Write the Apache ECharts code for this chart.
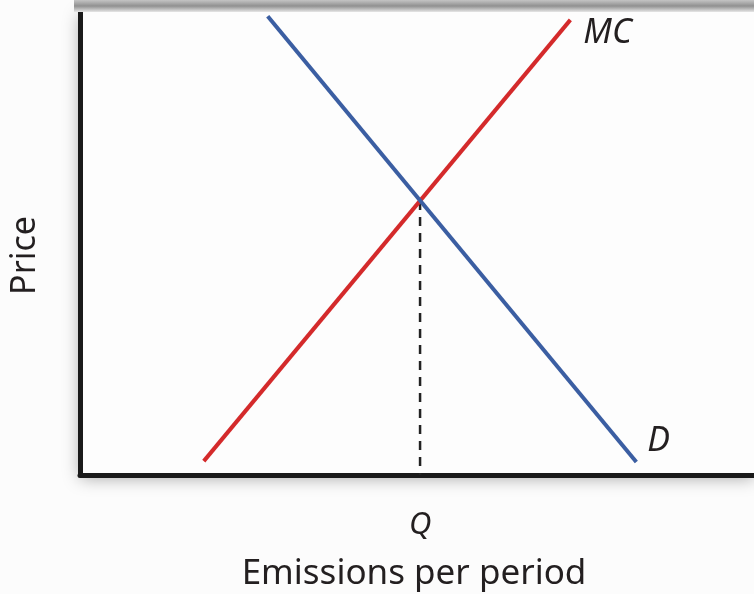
<!DOCTYPE html>
<html>
<head>
<meta charset="utf-8">
<script src="https://cdn.jsdelivr.net/npm/echarts@6/dist/echarts.min.js"></script>
<style>
html,body{margin:0;padding:0;background:#fcfcfc;}
#chart{width:754px;height:594px;}
</style>
</head>
<body>
<div id="chart"></div>
<script>
// Data (abstract units: x = emissions, y = price)
const mcCurve = [[18.2, 3.0], [72.1, 98.3]];
const demandCurve = [[27.6, 99.1], [81.8, 2.8]];
const qValue = 50;
const pStar = 59.2;
const qDrop = [[qValue, pStar], [qValue, 0]];
const xTickLabels = { 50: 'Q' };
const xAxisTitle = 'Emissions per period';
const yAxisTitle = 'Price';
const mcLabel = 'MC';
const dLabel = 'D';

const chart = echarts.init(document.getElementById('chart'), null, { renderer: 'canvas' });
const textColor = '#231f20';
const font = '"Noto Sans", "Open Sans", sans-serif';

chart.setOption({
  animation: false,
  backgroundColor: '#fcfcfc',
  grid: {
    left: 80, top: 12, right: 0, height: 463,
    outerBoundsMode: 'none', containLabel: false,
    show: true, backgroundColor: '#fdfdfd', borderWidth: 0,
    shadowBlur: 16, shadowColor: 'rgba(0,0,0,0.35)', shadowOffsetY: 3
  },
  graphic: [{
    type: 'rect', z: 5, silent: true,
    shape: { x: 74, y: 0, width: 700, height: 12 },
    style: {
      fill: new echarts.graphic.LinearGradient(0, 0, 0, 1, [
        { offset: 0, color: '#c4c4c4' },
        { offset: 0.5, color: '#909090' },
        { offset: 1, color: '#e6e6e6' }
      ])
    }
  }],
  xAxis: {
    type: 'value', min: 0, max: 99.1, interval: 50,
    axisLine: { show: true, lineStyle: { color: '#1a1a1a', width: 5 } },
    axisTick: { show: false },
    splitLine: { show: false },
    axisLabel: {
      formatter: v => xTickLabels[v] || '', showMaxLabel: false,
      fontStyle: 'italic', fontSize: 31, color: textColor, fontFamily: font, margin: 35
    },
    name: xAxisTitle, nameLocation: 'middle', nameGap: 82,
    nameTextStyle: { fontSize: 35, color: textColor, fontFamily: font, padding: [0, 6, 0, 0] }
  },
  yAxis: {
    type: 'value', min: 0, max: 100,
    axisLine: { show: true, lineStyle: { color: '#1a1a1a', width: 5 } },
    axisTick: { show: false },
    splitLine: { show: false },
    axisLabel: { show: false },
    name: yAxisTitle, nameLocation: 'middle', nameGap: 38, nameRotate: 90,
    nameTextStyle: { fontSize: 34, color: textColor, fontFamily: font, padding: [0, 24, 0, 0] }
  },
  series: [
    {
      type: 'line', data: qDrop, symbol: 'none', z: 1,
      lineStyle: { color: '#222', width: 2.5, type: [9, 7] }
    },
    {
      type: 'line', data: mcCurve, symbol: 'none', z: 2,
      lineStyle: { color: '#d42a2b', width: 4 },
      endLabel: {
        show: true, formatter: mcLabel, fontStyle: 'italic', fontSize: 34,
        color: textColor, fontFamily: font, distance: 13, offset: [0, 13]
      }
    },
    {
      type: 'line', data: demandCurve, symbol: 'none', z: 3,
      lineStyle: { color: '#3b5ea2', width: 4 },
      endLabel: {
        show: true, formatter: dLabel, fontStyle: 'italic', fontSize: 34,
        color: textColor, fontFamily: font, distance: 11, offset: [0, -21]
      }
    }
  ]
});
</script>
</body>
</html>
